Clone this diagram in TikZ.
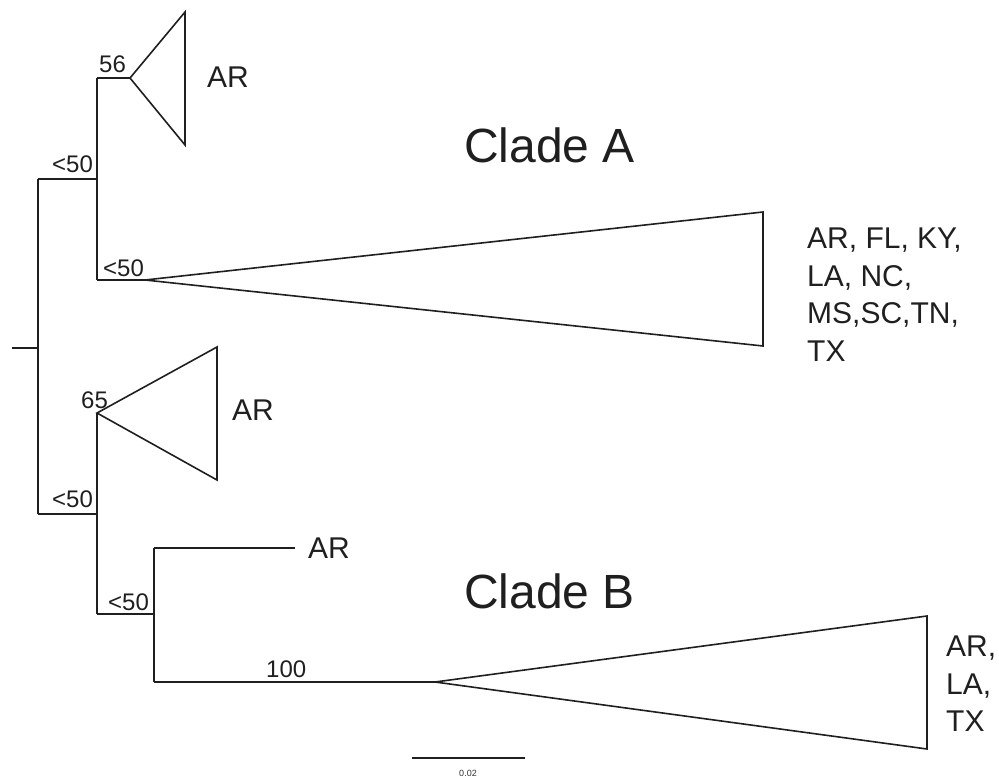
\documentclass[tikz,border=0pt]{standalone}
\usepackage{fontspec}
\setmainfont{Liberation Sans}
\begin{document}
\begin{tikzpicture}[x=1pt,y=-1pt,
  branch/.style={line width=2pt,draw=black!88},
  clade/.style={line width=1.6pt,draw=black!88},
  lbl/.style={anchor=base west,inner sep=0pt,font=\fontsize{30}{37.5}\selectfont,text=black!88},
  sup/.style={anchor=base west,inner sep=0pt,font=\fontsize{24}{28}\selectfont,text=black!88},
  big/.style={anchor=base west,inner sep=0pt,font=\fontsize{48}{56}\selectfont,text=black!88},
  lst/.style={anchor=north west,inner sep=0pt,align=left,font=\fontsize{30}{37.5}\selectfont,text=black!88}]
\useasboundingbox (0,0) rectangle (999,781);
% internal nodes
\coordinate (stub) at (12,348);
\coordinate (root) at (38,348);
\coordinate (rU) at (38,179);
\coordinate (rL) at (38,514);
\coordinate (u) at (97,179);
\coordinate (uT) at (97,78);
\coordinate (uB) at (97,280);
\coordinate (t1) at (130,78);
\coordinate (cA) at (145,280);
\coordinate (l) at (97,514);
\coordinate (t2) at (97,413);
\coordinate (lB) at (97,614);
\coordinate (b) at (154,614);
\coordinate (bT) at (154,548);
\coordinate (bB) at (154,682);
\coordinate (leaf) at (295,548);
\coordinate (cB) at (435,682);
% branches
\draw[branch] (stub) -- (root);
\draw[branch] (rU) -- (rL);
\draw[branch] (rU) -- (u);
\draw[branch] (rL) -- (l);
\draw[branch] (uT) -- (uB);
\draw[branch] (uT) -- (t1);
\draw[branch] (uB) -- (cA);
\draw[branch] (t2) -- (lB);
\draw[branch] (lB) -- (b);
\draw[branch] (bT) -- (bB);
\draw[branch] (bT) -- (leaf);
\draw[branch] (bB) -- (cB);
% collapsed clades
\draw[clade,line join=miter] (t1) -- (185,12) -- (185,145) -- cycle;
\draw[clade,line join=miter] (cA) -- (763,212) -- (763,346) -- cycle;
\draw[clade,line join=miter] (t2) -- (217,347) -- (217,480) -- cycle;
\draw[clade,line join=miter] (cB) -- (927,616) -- (927,749) -- cycle;
% support values
\node[sup] (s56) at (99,73) {56};
\node[sup] (sU) at (52,173) {<50};
\node[sup] (sA) at (103,276) {<50};
\node[sup] (s65) at (81,408) {65};
\node[sup] (sL) at (52,507) {<50};
\node[sup] (sB) at (108,610) {<50};
\node[sup] (s100) at (266,677) {100};
% tip labels
\node[lbl] (ar1) at (207,88) {AR};
\node[lbl] (ar2) at (232,420) {AR};
\node[lbl] (ar3) at (308,558) {AR};
\node[lst] (listA) at (807,228) {AR, FL, KY,\\LA, NC,\\MS,SC,TN,\\TX};
\node[lst] (listB) at (946,636) {AR,\\LA,\\TX};
\node[big] (cladeA) at (464,163) {Clade A};
\node[big] (cladeB) at (464,608) {Clade B};
% scale bar
\coordinate (sb1) at (412,758);
\coordinate (sb2) at (525,758);
\draw[branch] (sb1) -- (sb2);
\node[inner sep=0pt,font=\fontsize{9}{10}\selectfont,text=black!80] (sbl) at (468,773) {0.02};
\end{tikzpicture}
\end{document}
